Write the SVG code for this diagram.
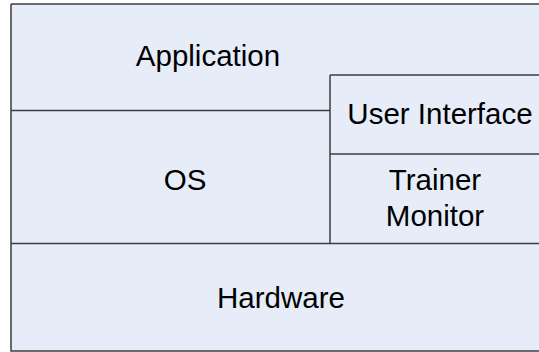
<svg xmlns="http://www.w3.org/2000/svg" width="539" height="352" viewBox="0 0 539 352">
<style>
.bg{fill:#e7edf8}
.ln{stroke:#3c3c3c;stroke-width:1.5;fill:none}
.t{font-family:"Liberation Sans",Arial,sans-serif;font-size:29.5px;fill:#000;text-anchor:middle}
</style>
<rect width="539" height="352" fill="#ffffff"/>
<g id="application">
<path class="bg" d="M11,4 H545 V75 H330 V110.5 H11 Z"/>
<text class="t" x="208" y="66">Application</text>
</g>
<g id="os">
<rect class="bg" x="11" y="110.5" width="319" height="133"/>
<text class="t" x="185" y="190">OS</text>
</g>
<g id="user-interface">
<rect class="bg" x="330" y="75" width="215" height="79"/>
<text class="t" x="440" y="124">User Interface</text>
</g>
<g id="trainer-monitor">
<rect class="bg" x="330" y="154" width="215" height="89.5"/>
<text class="t" x="435" y="190">Trainer</text>
<text class="t" x="435" y="226">Monitor</text>
</g>
<g id="hardware">
<rect class="bg" x="11" y="243.5" width="534" height="107.5"/>
<text class="t" x="281" y="308">Hardware</text>
</g>
<g id="connectors">
<path class="ln" d="M11,4 H545" stroke="#6a6a6a"/>
<path class="ln" d="M11,4 V351 H545"/>
<path class="ln" d="M11,110.5 H330"/>
<path class="ln" d="M330,75 H545"/>
<path class="ln" d="M330,75 V243.5"/>
<path class="ln" d="M330,154 H545"/>
<path class="ln" d="M11,243.5 H545" stroke-width="2"/>
</g>
</svg>
